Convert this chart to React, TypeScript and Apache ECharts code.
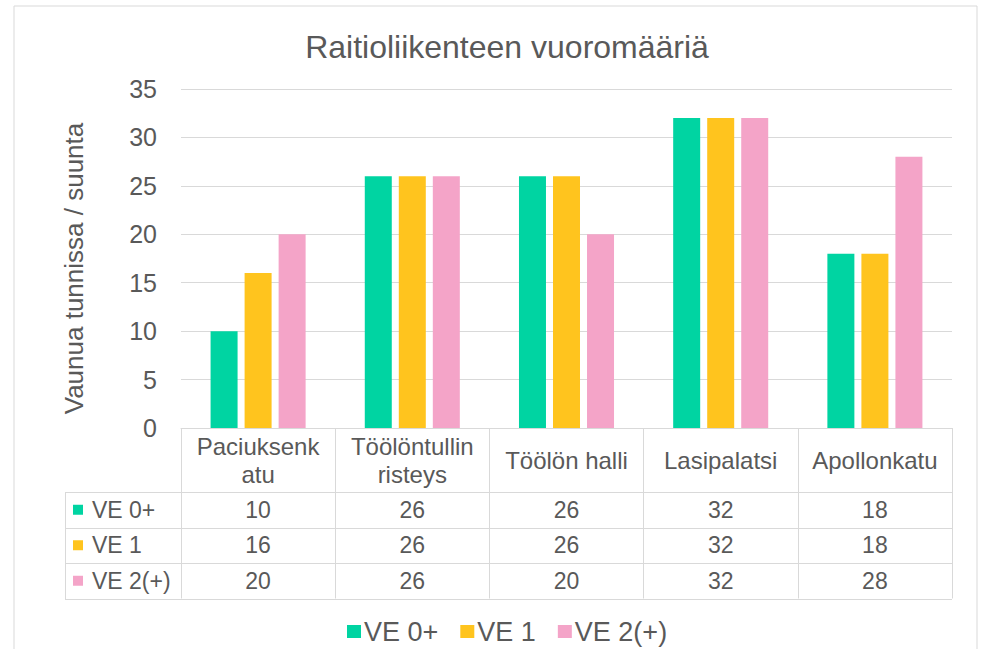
import React, { useEffect, useRef } from "react";
import * as echarts from "echarts";

const categories = ["Paciuksenkatu", "Töölöntullin risteys", "Töölön halli", "Lasipalatsi", "Apollonkatu"];
const categoryLabels = ["Paciuksenk\natu", "Töölöntullin\nristeys", "Töölön halli", "Lasipalatsi", "Apollonkatu"];
const seriesNames = ["VE 0+", "VE 1", "VE 2(+)"];
const ve0 = [10, 26, 26, 32, 18];
const ve1 = [16, 26, 26, 32, 18];
const ve2 = [20, 26, 20, 32, 28];
const seriesValues = [ve0, ve1, ve2];
const colors = ["#00D4A2", "#FFC41E", "#F4A4C8"];
const yMin = 0;
const yMax = 35;
const yInterval = 5;

const FONT = "'Liberation Sans', Arial, sans-serif";
const TXT = "#595959";
const LINE = "#d9d9d9";

export default function App() {
  const ref = useRef<HTMLDivElement>(null);
  useEffect(() => {
    if (!ref.current) return;
    const chart = echarts.init(ref.current, null, { renderer: "svg" });
    const headerH = 64;
    const rowH = 35.5;
    const tableLeft = 65;
    chart.setOption({
      animation: false,
      backgroundColor: "#ffffff",
      title: {
        text: "Raitioliikenteen vuoromääriä",
        left: 502,
        top: 26,
        textAlign: "center",
        textStyle: { fontFamily: FONT, fontSize: 32, fontWeight: "normal", color: TXT },
      },
      legend: {
        data: seriesNames,
        left: 342,
        top: 613,
        icon: "rect",
        itemWidth: 14,
        itemHeight: 13,
        itemGap: 22,
        textStyle: { fontFamily: FONT, fontSize: 27, color: TXT, padding: [0, 0, 0, -2] },
      },
      grid: { left: 181, right: 37, top: 89, bottom: 221, containLabel: false },
      xAxis: {
        type: "category",
        data: categories,
        axisLine: { show: true, lineStyle: { color: LINE, width: 1 } },
        axisTick: { show: true, length: headerH + rowH * 3, lineStyle: { color: LINE, width: 1 } },
        axisLabel: {
          formatter: (_v: string, i: number) => categoryLabels[i],
          margin: headerH / 2,
          verticalAlign: "middle",
          lineHeight: 28,
          fontFamily: FONT,
          fontSize: 24,
          color: TXT,
          interval: 0,
        },
      },
      yAxis: {
        type: "value",
        min: yMin,
        max: yMax,
        interval: yInterval,
        name: "Vaunua tunnissa / suunta",
        nameLocation: "middle",
        nameGap: 94,
        nameTextStyle: { fontFamily: FONT, fontSize: 26, color: TXT, padding: [0, 20, 0, 0] },
        axisLine: { show: false },
        axisTick: { show: false },
        axisLabel: { fontFamily: FONT, fontSize: 25, color: TXT, margin: 24 },
        splitLine: { lineStyle: { color: LINE, width: 1 } },
      },
      series: seriesNames.map((name, k) => ({
        name,
        type: "bar",
        data: seriesValues[k],
        barWidth: 27,
        barGap: "26%",
        itemStyle: { color: colors[k] },
      })),
    });

    const axisY = chart.convertToPixel({ yAxisIndex: 0 }, 0) as number;
    const c0 = chart.convertToPixel({ xAxisIndex: 0 }, 0) as number;
    const c1 = chart.convertToPixel({ xAxisIndex: 0 }, 1) as number;
    const band = c1 - c0;
    const rightX = (chart.convertToPixel({ xAxisIndex: 0 }, categories.length - 1) as number) + band / 2;
    const graphics: any[] = [];
    graphics.push({
      type: "rect",
      shape: { x: 14, y: 6, width: 963, height: 700 },
      style: { fill: "none", stroke: LINE, lineWidth: 1 },
      silent: true,
      z: -1,
    });
    for (let r = 0; r <= 3; r++) {
      const y = Math.round(axisY + headerH + r * rowH) + 0.5;
      graphics.push({
        type: "line",
        shape: { x1: tableLeft, y1: y, x2: rightX, y2: y },
        style: { stroke: LINE, lineWidth: 1 },
        silent: true,
      });
    }
    graphics.push({
      type: "line",
      shape: {
        x1: tableLeft + 0.5,
        y1: Math.round(axisY + headerH),
        x2: tableLeft + 0.5,
        y2: Math.round(axisY + headerH + 3 * rowH) + 1,
      },
      style: { stroke: LINE, lineWidth: 1 },
      silent: true,
    });
    seriesNames.forEach((name, k) => {
      const cy = axisY + headerH + (k + 0.5) * rowH;
      graphics.push({
        type: "rect",
        shape: { x: tableLeft + 8, y: cy - 5, width: 10, height: 10 },
        style: { fill: colors[k] },
        silent: true,
      });
      graphics.push({
        type: "text",
        x: tableLeft + 27,
        y: cy,
        style: {
          text: name,
          fontFamily: FONT,
          fontSize: 23,
          fill: TXT,
          verticalAlign: "middle",
          align: "left",
        },
        silent: true,
      });
      seriesValues[k].forEach((v, i) => {
        const cx = chart.convertToPixel({ xAxisIndex: 0 }, i) as number;
        graphics.push({
          type: "text",
          x: cx,
          y: cy,
          style: {
            text: String(v),
            fontFamily: FONT,
            fontSize: 23,
            fill: TXT,
            align: "center",
            verticalAlign: "middle",
          },
          silent: true,
        });
      });
    });
    chart.setOption({ graphic: graphics });
    return () => chart.dispose();
  }, []);
  return <div ref={ref} style={{ width: 989, height: 649, position: "absolute", left: 0, top: 0 }} />;
}
